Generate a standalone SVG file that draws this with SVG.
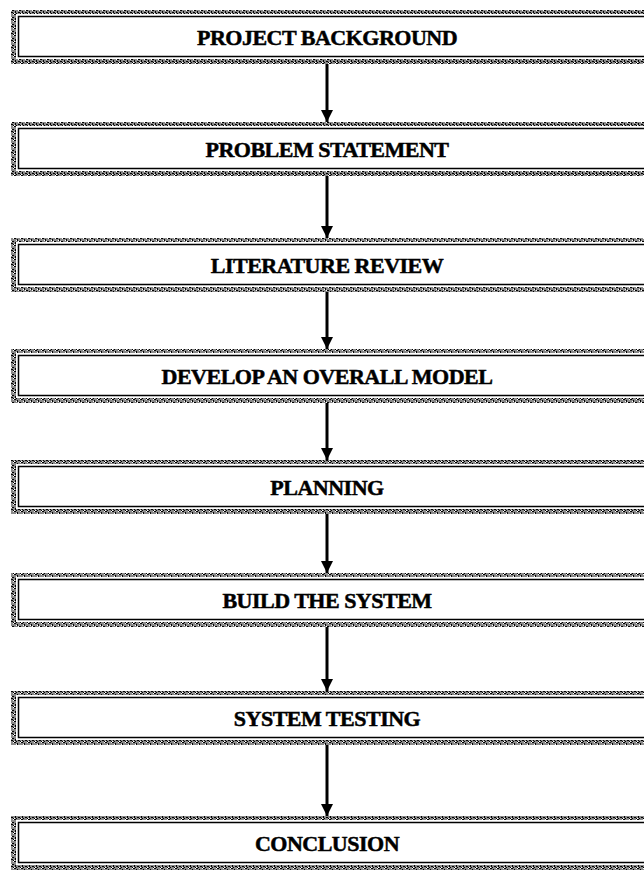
<svg xmlns="http://www.w3.org/2000/svg" width="644" height="875" viewBox="0 0 644 875">
  <style>
    .band { fill: url(#tex); }
    .inner { fill: #ffffff; }
    .frame { fill: none; stroke: #000000; stroke-width: 1.5; }
    .label { font-family: "Liberation Serif", "Times New Roman", serif; font-weight: bold; font-size: 22px; letter-spacing: -0.5px; fill: #000000; stroke: #000000; stroke-width: 0.5; text-anchor: middle; }
    .conn { stroke: #000000; stroke-width: 3; fill: none; }
  </style>
  <defs>
    <pattern id="tex" width="7" height="7" patternUnits="userSpaceOnUse">
      <rect width="7" height="7" fill="#8a8a8a"/>
      <rect x="0" y="0" width="2" height="1" fill="#000"/>
      <rect x="3" y="1" width="1" height="2" fill="#000"/>
      <rect x="5" y="3" width="2" height="1" fill="#000"/>
      <rect x="1" y="4" width="1" height="2" fill="#000"/>
      <rect x="4" y="5" width="2" height="1" fill="#000"/>
      <rect x="6" y="6" width="1" height="1" fill="#000"/>
      <rect x="2" y="6" width="1" height="1" fill="#000"/>
      <rect x="6" y="0" width="1" height="1" fill="#fff"/>
      <rect x="2" y="2" width="1" height="1" fill="#fff"/>
      <rect x="0" y="6" width="1" height="1" fill="#fff"/>
      <rect x="4" y="3" width="1" height="1" fill="#fff"/>
    </pattern>
    <marker id="head" markerWidth="12" markerHeight="12" refX="12" refY="6" orient="auto" markerUnits="userSpaceOnUse" viewBox="0 0 12 12">
      <path d="M0,0 L12,6 L0,12 Z" fill="#000"/>
    </marker>
  </defs>

  <g id="connectors">
    <line class="conn" x1="327" y1="64" x2="327" y2="122" marker-end="url(#head)"/>
    <line class="conn" x1="327" y1="176" x2="327" y2="238" marker-end="url(#head)"/>
    <line class="conn" x1="327" y1="292" x2="327" y2="349" marker-end="url(#head)"/>
    <line class="conn" x1="327" y1="403" x2="327" y2="460" marker-end="url(#head)"/>
    <line class="conn" x1="327" y1="514" x2="327" y2="573" marker-end="url(#head)"/>
    <line class="conn" x1="327" y1="627" x2="327" y2="691" marker-end="url(#head)"/>
    <line class="conn" x1="327" y1="745" x2="327" y2="816" marker-end="url(#head)"/>
  </g>

  <g id="node1">
    <rect class="band" x="11" y="10" width="640" height="54"/>
    <rect class="inner" x="16" y="14" width="640" height="45"/>
    <rect class="frame" x="18.5" y="16.5" width="640" height="40"/>
    <text class="label" x="327" y="45">PROJECT BACKGROUND</text>
  </g>
  <g id="node2">
    <rect class="band" x="11" y="122" width="640" height="54"/>
    <rect class="inner" x="16" y="126" width="640" height="45"/>
    <rect class="frame" x="18.5" y="128.5" width="640" height="40"/>
    <text class="label" x="327" y="157">PROBLEM STATEMENT</text>
  </g>
  <g id="node3">
    <rect class="band" x="11" y="238" width="640" height="54"/>
    <rect class="inner" x="16" y="242" width="640" height="45"/>
    <rect class="frame" x="18.5" y="244.5" width="640" height="40"/>
    <text class="label" x="327" y="273">LITERATURE REVIEW</text>
  </g>
  <g id="node4">
    <rect class="band" x="11" y="349" width="640" height="54"/>
    <rect class="inner" x="16" y="353" width="640" height="45"/>
    <rect class="frame" x="18.5" y="355.5" width="640" height="40"/>
    <text class="label" x="327" y="384">DEVELOP AN OVERALL MODEL</text>
  </g>
  <g id="node5">
    <rect class="band" x="11" y="460" width="640" height="54"/>
    <rect class="inner" x="16" y="464" width="640" height="45"/>
    <rect class="frame" x="18.5" y="466.5" width="640" height="40"/>
    <text class="label" x="327" y="495">PLANNING</text>
  </g>
  <g id="node6">
    <rect class="band" x="11" y="573" width="640" height="54"/>
    <rect class="inner" x="16" y="577" width="640" height="45"/>
    <rect class="frame" x="18.5" y="579.5" width="640" height="40"/>
    <text class="label" x="327" y="608">BUILD THE SYSTEM</text>
  </g>
  <g id="node7">
    <rect class="band" x="11" y="691" width="640" height="54"/>
    <rect class="inner" x="16" y="695" width="640" height="45"/>
    <rect class="frame" x="18.5" y="697.5" width="640" height="40"/>
    <text class="label" x="327" y="726">SYSTEM TESTING</text>
  </g>
  <g id="node8">
    <rect class="band" x="11" y="816" width="640" height="54"/>
    <rect class="inner" x="16" y="820" width="640" height="45"/>
    <rect class="frame" x="18.5" y="822.5" width="640" height="40"/>
    <text class="label" x="327" y="851">CONCLUSION</text>
  </g>
</svg>
